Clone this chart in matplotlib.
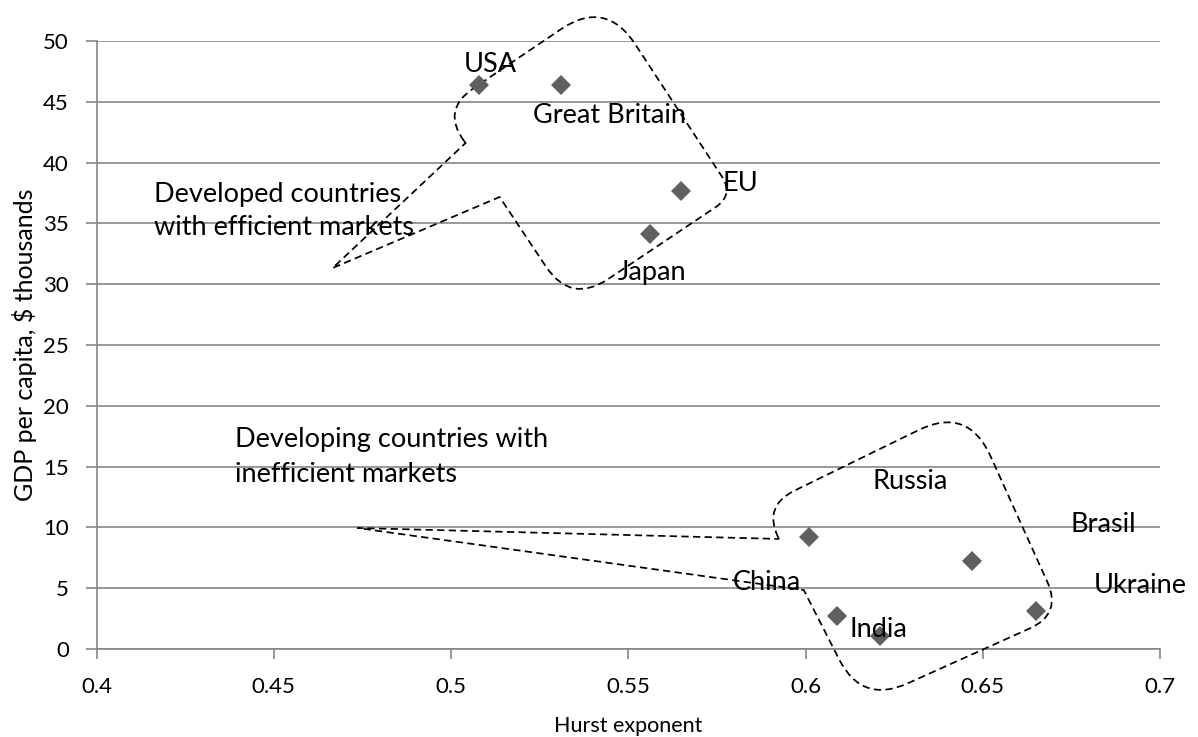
import numpy as np
import matplotlib
matplotlib.use('Agg')
import matplotlib.pyplot as plt
from matplotlib.path import Path
from matplotlib.patches import PathPatch

plt.rcParams['font.family'] = ['Lato', 'DejaVu Sans']

# data
names_dev = ['USA', 'Great Britain', 'EU', 'Japan']
hurst_dev = [0.508, 0.531, 0.565, 0.556]
gdp_dev = [46.4, 46.4, 37.7, 34.1]

names_emg = ['Russia', 'Brasil', 'Ukraine', 'China', 'India']
hurst_emg = [0.601, 0.647, 0.665, 0.609, 0.621]
gdp_emg = [9.2, 7.2, 3.1, 2.7, 1.1]

x_ticks = [0.4, 0.45, 0.5, 0.55, 0.6, 0.65, 0.7]
y_ticks = [0, 5, 10, 15, 20, 25, 30, 35, 40, 45, 50]

# where the labels sit (data coords)
label_pos = {
    'USA': (0.5110, 48.3), 'Great Britain': (0.5446, 44.05), 'EU': (0.5817, 38.5),
    'Japan': (0.5567, 31.2), 'Russia': (0.6294, 13.96), 'Brasil': (0.684, 10.47),
    'Ukraine': (0.6944, 5.45), 'China': (0.589, 5.67), 'India': (0.6207, 1.83),
}

# callout outlines: corners (data coords) and corner rounding in pixels
callout_dev = [(0.4973, 44.33), (0.5436, 53.45), (0.5798, 37.34), (0.5338, 28.37),
               (0.5137, 37.17), (0.4666, 31.33), (0.5041, 41.61)]
cuts_dev = [38, 54, 22, 45, 0, 0, 0]
callout_emg = [(0.5880, 11.76), (0.6458, 19.98), (0.6723, 2.88), (0.6159, -4.52),
               (0.5995, 4.85), (0.4736, 9.95), (0.5925, 9.05)]
cuts_emg = [35, 55, 35, 50, 0, 0, 0]

grey = '#868686'


def rounded_outline(ax, pts, cuts):
    disp = ax.transData.transform(np.array(pts))
    n = len(disp)
    verts, codes = [], []
    for i in range(n):
        p = disp[i]
        c = cuts[i]
        if c <= 0:
            verts.append(p)
            codes.append(Path.LINETO)
            continue
        prev = disp[i - 1]
        nxt = disp[(i + 1) % n]
        l1 = np.hypot(*(prev - p))
        l2 = np.hypot(*(nxt - p))
        a = p + (prev - p) / l1 * min(c, 0.97 * l1)
        b = p + (nxt - p) / l2 * min(c, 0.97 * l2)
        verts += [a, p, b]
        codes += [Path.LINETO, Path.CURVE3, Path.CURVE3]
    codes[0] = Path.MOVETO
    verts.append(verts[0])
    codes.append(Path.CLOSEPOLY)
    data = ax.transData.inverted().transform(np.array(verts))
    return Path(data, codes)


fig = plt.figure(figsize=(11.98, 7.37), dpi=100)
ax = fig.add_axes([0.0806, 0.1194, 0.9683 - 0.0806, 0.9444 - 0.1194])
ax.set_xlim(0.4, 0.7)
ax.set_ylim(0, 50)

ax.plot(hurst_dev, gdp_dev, 'D', color='#5f5f5f', ms=10, mew=0, zorder=4, clip_on=False)
ax.plot(hurst_emg, gdp_emg, 'D', color='#5f5f5f', ms=10, mew=0, zorder=4, clip_on=False)

for name in names_dev + names_emg:
    x, y = label_pos[name]
    ax.text(x, y, name, ha='center', va='center_baseline', fontsize=19.5, zorder=5)

ax.text(0.4163, 36.78, 'Developed countries', ha='left', va='baseline', fontsize=19.5)
ax.text(0.4163, 34.05, 'with efficient markets', ha='left', va='baseline', fontsize=19.5)
ax.text(0.4390, 16.64, 'Developing countries with', ha='left', va='baseline', fontsize=19.5)
ax.text(0.4390, 13.76, 'inefficient markets', ha='left', va='baseline', fontsize=19.5)

for pts, cuts in [(callout_dev, cuts_dev), (callout_emg, cuts_emg)]:
    patch = PathPatch(rounded_outline(ax, pts, cuts), fill=False, ec='black', lw=1.25,
                      ls=(0, (4.2, 2.5)), clip_on=False, zorder=3)
    ax.add_patch(patch)

ax.set_xticks(x_ticks)
ax.set_xticklabels(['%g' % t for t in x_ticks])
ax.set_yticks(y_ticks)
ax.set_yticklabels(['%g' % t for t in y_ticks])
ax.tick_params(axis='x', length=7, width=1.2, color=grey, labelsize=16, pad=13)
ax.tick_params(axis='y', length=8, width=1.2, color=grey, labelsize=16, pad=12)

ax.yaxis.grid(True, color=grey, lw=1.2)
ax.set_axisbelow(True)
for s in ['top', 'right']:
    ax.spines[s].set_visible(False)
for s in ['left', 'bottom']:
    ax.spines[s].set_color(grey)
    ax.spines[s].set_linewidth(1.2)

ax.set_xlabel('Hurst exponent', fontsize=15.5)
ax.xaxis.set_label_coords(0.5, -0.111)
ax.set_ylabel(r'GDP per capita, \$ thousands', fontsize=18)
ax.yaxis.set_label_coords(-0.056, 0.5)

fig.savefig('out.png', dpi=100)
